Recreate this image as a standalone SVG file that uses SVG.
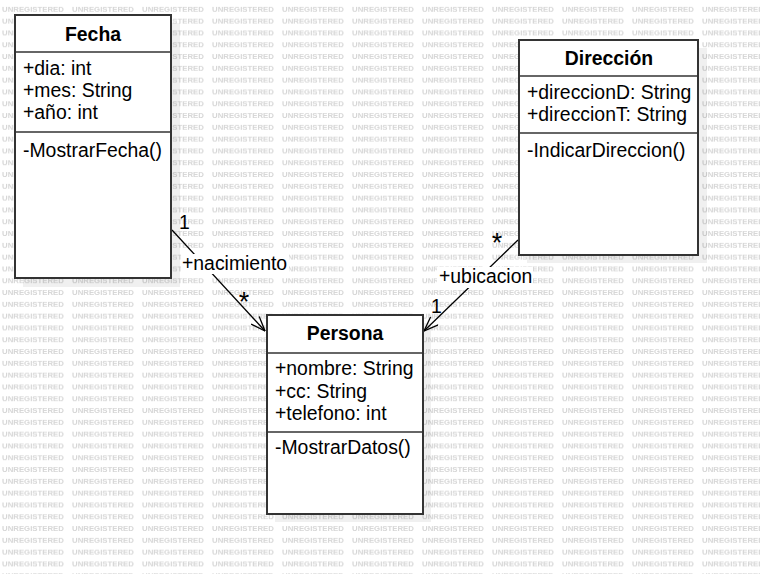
<svg xmlns="http://www.w3.org/2000/svg" width="760" height="574" viewBox="0 0 760 574">
<style>
.wm{font-family:"Liberation Sans",Arial,sans-serif;font-size:7.8px;font-weight:bold;fill:#d6d6d6}
.box{fill:#fff;stroke:#333;stroke-width:2}
.shadow{fill:#000;fill-opacity:0.06}
.div{stroke:#333;stroke-width:1.5}
.t{font-family:"Liberation Sans",Arial,sans-serif;font-size:19.4px;fill:#000}
.h{font-family:"Liberation Sans",Arial,sans-serif;font-size:19.4px;font-weight:bold;fill:#000;text-anchor:middle}
.edge{fill:none;stroke:#000;stroke-width:1.3}
.lbl{font-family:"Liberation Sans",Arial,sans-serif;font-size:19.4px;fill:#000}
.star{font-family:"Liberation Sans",Arial,sans-serif;font-size:27px;fill:#000;text-anchor:middle}
</style>
<defs>
<pattern id="wmp" patternUnits="userSpaceOnUse" x="2" y="0" width="70" height="11.8">
<text class="wm" x="0" y="11.5">UNREGISTERED</text>
</pattern>
<marker id="open" markerUnits="userSpaceOnUse" viewBox="0 0 16 12" refX="15.5" refY="6" markerWidth="16" markerHeight="12" orient="auto">
<path d="M1,0.5 L15.5,6 L1,11.5" fill="none" stroke="#000" stroke-width="1.3"/>
</marker>
</defs>
<rect width="760" height="574" fill="#fff"/>
<rect width="760" height="574" fill="url(#wmp)"/>

<g id="connectors">
<g id="e-nacimiento">
<path class="edge" d="M172,230 L265,331" marker-end="url(#open)"/>
<rect x="181" y="254" width="108" height="20" fill="#fff"/>
<text class="lbl" x="182" y="270">+nacimiento</text>
<text class="lbl" x="179" y="229">1</text>
<text class="star" x="244" y="311">*</text>
</g>
<g id="e-ubicacion">
<path class="edge" d="M518,240 L424,331" marker-end="url(#open)"/>
<rect x="437" y="267" width="96" height="21" fill="#fff"/>
<text class="lbl" x="439" y="283">+ubicacion</text>
<text class="star" x="497" y="252">*</text>
<text class="lbl" x="431" y="313">1</text>
</g>
</g>

<g id="Fecha">
<rect class="shadow" x="23" y="23" width="157" height="264"/>
<rect class="box" x="15" y="15" width="156" height="263"/>
<line class="div" x1="15" y1="52" x2="171" y2="52"/>
<line class="div" x1="15" y1="132" x2="171" y2="132"/>
<text class="h" x="93" y="41">Fecha</text>
<text class="t" x="23" y="75">+dia: int</text>
<text class="t" x="23" y="97">+mes: String</text>
<text class="t" x="23" y="119">+año: int</text>
<text class="t" x="23" y="157">-MostrarFecha()</text>
</g>

<g id="Direccion">
<rect class="shadow" x="527" y="48" width="180" height="215"/>
<rect class="box" x="519" y="40" width="179" height="215"/>
<line class="div" x1="519" y1="76" x2="698" y2="76"/>
<line class="div" x1="519" y1="133" x2="698" y2="133"/>
<text class="h" x="609" y="65">Dirección</text>
<text class="t" x="527" y="99">+direccionD: String</text>
<text class="t" x="527" y="121">+direccionT: String</text>
<text class="t" x="527" y="157">-IndicarDireccion()</text>
</g>

<g id="Persona">
<rect class="shadow" x="275" y="323" width="156" height="199"/>
<rect class="box" x="267" y="315" width="156" height="199"/>
<line class="div" x1="267" y1="353" x2="423" y2="353"/>
<line class="div" x1="267" y1="432" x2="423" y2="432"/>
<text class="h" x="345" y="340">Persona</text>
<text class="t" x="275" y="375">+nombre: String</text>
<text class="t" x="275" y="398">+cc: String</text>
<text class="t" x="275" y="420">+telefono: int</text>
<text class="t" x="275" y="454">-MostrarDatos()</text>
</g>
</svg>
